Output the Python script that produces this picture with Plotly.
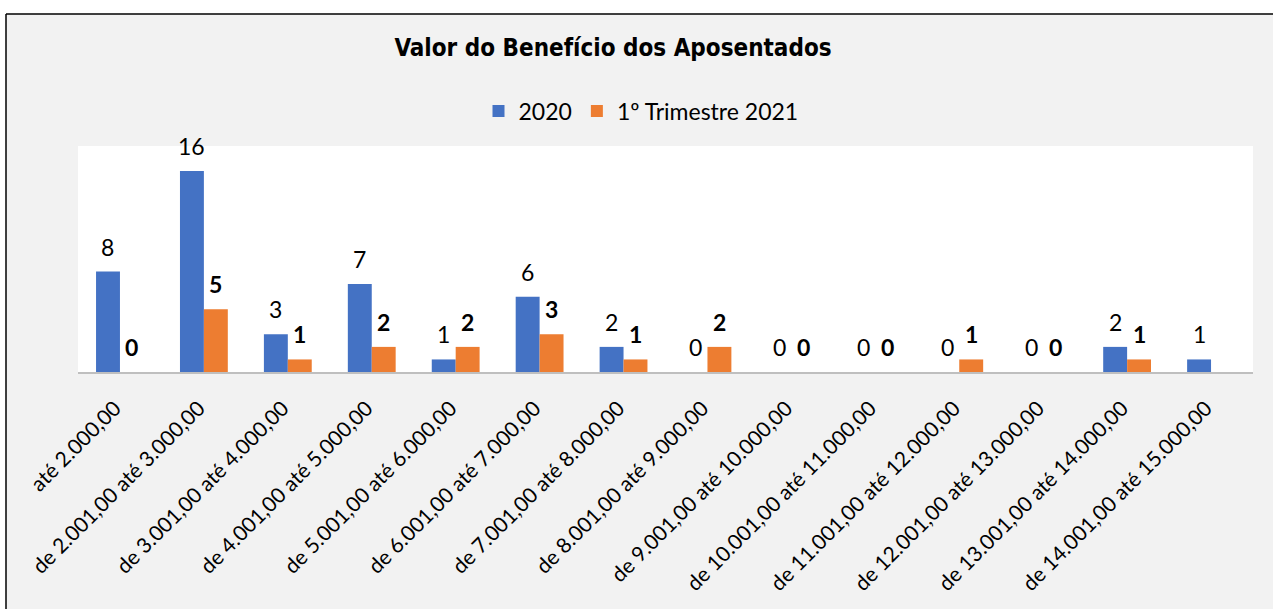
import plotly.graph_objects as go

categories = [
    "até 2.000,00",
    "de 2.001,00 até 3.000,00",
    "de 3.001,00 até 4.000,00",
    "de 4.001,00 até 5.000,00",
    "de 5.001,00 até 6.000,00",
    "de 6.001,00 até 7.000,00",
    "de 7.001,00 até 8.000,00",
    "de 8.001,00 até 9.000,00",
    "de 9.001,00 até 10.000,00",
    "de 10.001,00 até 11.000,00",
    "de 11.001,00 até 12.000,00",
    "de 12.001,00 até 13.000,00",
    "de 13.001,00 até 14.000,00",
    "de 14.001,00 até 15.000,00",
]
values_2020 = [8, 16, 3, 7, 1, 6, 2, 0, 0, 0, 0, 0, 2, 1]
values_2021 = [0, 5, 1, 2, 2, 3, 1, 2, 0, 0, 1, 0, 1, None]
series_names = ["2020", "1º Trimestre 2021"]

BLUE = "#4472C4"
ORANGE = "#ED7D31"
FONT = "Lato, 'Open Sans', sans-serif"

W, H = 1273, 609
ML, MR, MT, MB = 78, 20, 146, 237
PW, PH = W - ML - MR, H - MT - MB

fig = go.Figure()
fig.add_trace(go.Bar(x=categories, y=values_2020, name=series_names[0],
                     marker=dict(color=BLUE, line=dict(width=0))))
fig.add_trace(go.Bar(x=categories, y=values_2021, name=series_names[1],
                     marker=dict(color=ORANGE, line=dict(width=0))))

annotations = []
for c, v in zip(categories, values_2020):
    if v is None:
        continue
    annotations.append(dict(x=c, y=v, xref="x", yref="y", text=str(v),
                            showarrow=False, xshift=-12, yshift=25, yanchor="middle",
                            font=dict(family=FONT, size=23, color="#000000")))
for c, v in zip(categories, values_2021):
    if v is None:
        continue
    annotations.append(dict(x=c, y=v, xref="x", yref="y", text="<b>%d</b>" % v,
                            showarrow=False, xshift=12, yshift=25, yanchor="middle",
                            font=dict(family=FONT, size=23, color="#000000")))


def px_x(p):
    return (p - ML) / PW


def px_y(p):
    return (H - MB - p) / PH


shapes = [
    dict(type="rect", xref="paper", yref="paper", x0=px_x(-5), x1=px_x(6), y0=px_y(-5), y1=px_y(H + 5),
         fillcolor="white", line=dict(width=0), layer="above"),
    dict(type="rect", xref="paper", yref="paper", x0=px_x(-5), x1=px_x(W + 5), y0=px_y(-5), y1=px_y(14),
         fillcolor="white", line=dict(width=0), layer="above"),
    dict(type="line", xref="paper", yref="paper", x0=px_x(6), x1=px_x(W + 5), y0=px_y(14), y1=px_y(14),
         line=dict(color="black", width=1.5), layer="above"),
    dict(type="line", xref="paper", yref="paper", x0=px_x(6), x1=px_x(6), y0=px_y(14), y1=px_y(H + 5),
         line=dict(color="black", width=1.5), layer="above"),
]

fig.update_layout(
    width=W, height=H,
    margin=dict(l=ML, r=MR, t=MT, b=MB),
    paper_bgcolor="#F2F2F2",
    plot_bgcolor="#FFFFFF",
    barmode="group",
    bargap=0.43,
    bargroupgap=0,
    title=dict(text="<b>Valor do Benefício dos Aposentados</b>",
               x=613 / W, xanchor="center", xref="container",
               y=1 - 48 / H, yanchor="middle", yref="container",
               font=dict(family="'DejaVu Sans Condensed', 'Liberation Sans Narrow', sans-serif",
                         size=24, color="#000000")),
    legend=dict(orientation="h", x=px_x(641), xanchor="center", y=px_y(111), yanchor="middle",
                font=dict(family=FONT, size=23, color="#000000"),
                bgcolor="rgba(0,0,0,0)", traceorder="normal", itemwidth=30),
    xaxis=dict(tickangle=-45, tickfont=dict(family=FONT, size=21, color="#000000"),
               showline=True, linecolor="#BFBFBF", linewidth=1.5, ticks="",
               ticklabelstandoff=14, ticklabelshift=-5,
               showgrid=False, fixedrange=True),
    yaxis=dict(range=[0, 18], showticklabels=False, showgrid=False, zeroline=False,
               showline=False, ticks="", fixedrange=True),
    annotations=annotations,
    shapes=shapes,
    showlegend=True,
)

fig.write_html("out.html", config={"displayModeBar": False},
               post_script="document.body.style.margin='0px';")
